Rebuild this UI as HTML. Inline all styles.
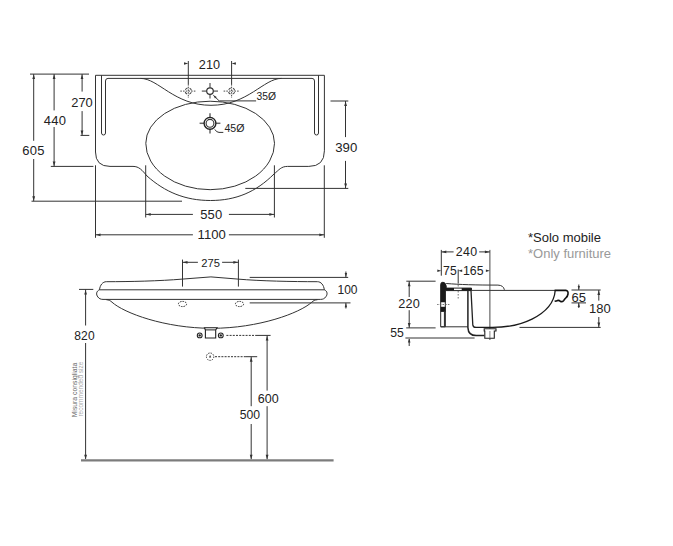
<!DOCTYPE html>
<html><head><meta charset="utf-8"><style>
html,body{margin:0;padding:0;background:#fff;}
body{width:673px;height:546px;overflow:hidden;}
svg{display:block;font-family:"Liberation Sans",sans-serif;}
</style></head><body>
<svg width="673" height="546" viewBox="0 0 673 546">
<rect width="673" height="546" fill="#fff"/>
<path d="M95.5,75.3 H324.4 V150.8 Q324.4,166.4 308.8,166.4 H287.5 C281,166.4 279,170 274,174 C256,192 236,200.5 210.5,200.5 C185,200.5 165,192 147,176 C142,170 139,166.4 133,166.4 H110 Q95.5,166.4 95.5,152 Z" stroke="#333" stroke-width="1" fill="none" />
<path d="M101.5,75.3 V133 A2,2 0 0 0 105.5,133 V81 Q105.5,78.4 108,78.4 H312 Q314.5,78.4 314.5,81 V133 A2,2 0 0 0 318.5,133 V75.3" stroke="#333" stroke-width="1" fill="none" />
<path d="M140.5,78.4 C158.5,78.4 174,105.3 211,105.3 C248,105.3 263.5,78.4 281.5,78.4" stroke="#333" stroke-width="1" fill="none" />
<path d="M145.8,143.3 A64.35,42.1 0 0 1 274.5,143.3 A64.35,46.4 0 0 1 145.8,143.3 Z" stroke="#333" stroke-width="1" fill="none" />
<line x1="201.8" y1="91.1" x2="218" y2="91.1" stroke="#777" stroke-width="1.5" />
<line x1="210" y1="82.9" x2="210" y2="98.6" stroke="#777" stroke-width="1.5" />
<circle cx="210" cy="91.1" r="3.3" fill="#fff" stroke="#333" stroke-width="1.2"/>
<g stroke="#4a4a4a" stroke-width="1" fill="none" stroke-dasharray="1.6,1.1"><circle cx="188.3" cy="91.1" r="3.2" stroke-dasharray="2.8,2.2" transform="rotate(20 188.3 91.1)"/><line x1="180.3" y1="91.1" x2="196.3" y2="91.1"/><line x1="188.3" y1="84" x2="188.3" y2="98"/></g>
<g stroke="#4a4a4a" stroke-width="1" fill="none" stroke-dasharray="1.6,1.1"><circle cx="231.6" cy="91.1" r="3.2" stroke-dasharray="2.8,2.2" transform="rotate(20 231.6 91.1)"/><line x1="223.6" y1="91.1" x2="239.6" y2="91.1"/><line x1="231.6" y1="84" x2="231.6" y2="98"/></g>
<line x1="199.6" y1="123.3" x2="220.4" y2="123.3" stroke="#666" stroke-width="1.5" />
<line x1="210" y1="113.3" x2="210" y2="133.6" stroke="#666" stroke-width="1.5" />
<circle cx="210" cy="123.3" r="5.9" fill="#fff" stroke="#222" stroke-width="1.4"/>
<circle cx="210" cy="123.3" r="3.9" fill="#fff" stroke="#333" stroke-width="1.1"/>
<path d="M213.4,95.3 L219.2,100.9 H256.1" stroke="#333" stroke-width="1" fill="none" />
<polygon points="213.40,95.30 215.03,98.62 216.72,96.93" fill="#333"/>
<path d="M214.8,129.4 Q216.5,132.4 219,132.4 H223.3" stroke="#333" stroke-width="1" fill="none" />
<text x="256.5" y="99.5" font-size="10.3" text-anchor="start" fill="#222" >35Ø</text>
<text x="224.4" y="131.6" font-size="10.6" text-anchor="start" fill="#222" >45Ø</text>
<line x1="188.3" y1="61" x2="188.3" y2="84" stroke="#333" stroke-width="1" />
<line x1="231.6" y1="61" x2="231.6" y2="84" stroke="#333" stroke-width="1" />
<polygon points="188.30,63.50 184.00,62.30 184.00,64.70" fill="#333"/>
<polygon points="231.60,63.50 235.90,62.30 235.90,64.70" fill="#333"/>
<text x="209.45" y="68.9" font-size="12.7" text-anchor="middle" fill="#222" >210</text>
<line x1="30" y1="74.1" x2="89" y2="74.1" stroke="#333" stroke-width="1" />
<line x1="33.7" y1="74.1" x2="33.7" y2="140.8" stroke="#333" stroke-width="1" />
<line x1="33.7" y1="159" x2="33.7" y2="201.2" stroke="#333" stroke-width="1" />
<polygon points="33.70,74.60 32.30,79.10 35.10,79.10" fill="#333"/>
<polygon points="33.70,200.70 32.30,196.20 35.10,196.20" fill="#333"/>
<text x="33.6" y="154.8" font-size="13" text-anchor="middle" fill="#222" letter-spacing="0.3">605</text>
<line x1="54.1" y1="74.1" x2="54.1" y2="110.4" stroke="#333" stroke-width="1" />
<line x1="54.1" y1="127" x2="54.1" y2="166.4" stroke="#333" stroke-width="1" />
<polygon points="54.10,74.60 52.70,79.10 55.50,79.10" fill="#333"/>
<polygon points="54.10,165.90 52.70,161.40 55.50,161.40" fill="#333"/>
<text x="55.1" y="124.9" font-size="13" text-anchor="middle" fill="#222" letter-spacing="0.3">440</text>
<line x1="82.1" y1="74.1" x2="82.1" y2="91.6" stroke="#333" stroke-width="1" />
<line x1="82.1" y1="111.1" x2="82.1" y2="135.4" stroke="#333" stroke-width="1" />
<polygon points="82.00,74.60 80.60,79.10 83.40,79.10" fill="#333"/>
<polygon points="82.00,134.90 80.60,130.40 83.40,130.40" fill="#333"/>
<text x="82" y="106.7" font-size="12.9" text-anchor="middle" fill="#222" >270</text>
<line x1="80.5" y1="135.4" x2="89.3" y2="135.4" stroke="#333" stroke-width="1" />
<line x1="50.8" y1="166.4" x2="93.4" y2="166.4" stroke="#333" stroke-width="1" />
<line x1="31.5" y1="201.2" x2="182" y2="201.2" stroke="#333" stroke-width="1" />
<line x1="145.7" y1="165.3" x2="145.7" y2="217.5" stroke="#333" stroke-width="1" />
<line x1="274.4" y1="165.3" x2="274.4" y2="217.5" stroke="#333" stroke-width="1" />
<line x1="145.7" y1="214.4" x2="192.9" y2="214.4" stroke="#333" stroke-width="1" />
<line x1="228.9" y1="214.4" x2="274.4" y2="214.4" stroke="#333" stroke-width="1" />
<polygon points="146.20,214.40 150.70,213.00 150.70,215.80" fill="#333"/>
<polygon points="273.90,214.40 269.40,213.00 269.40,215.80" fill="#333"/>
<text x="211.3" y="218.9" font-size="13" text-anchor="middle" fill="#222" letter-spacing="0.2">550</text>
<line x1="95.5" y1="165.3" x2="95.5" y2="237.8" stroke="#333" stroke-width="1" />
<line x1="324.3" y1="165.3" x2="324.3" y2="237.8" stroke="#333" stroke-width="1" />
<line x1="95.5" y1="234.8" x2="192.9" y2="234.8" stroke="#333" stroke-width="1" />
<line x1="228.9" y1="234.8" x2="324.3" y2="234.8" stroke="#333" stroke-width="1" />
<polygon points="96.00,234.80 100.50,233.40 100.50,236.20" fill="#333"/>
<polygon points="323.80,234.80 319.30,233.40 319.30,236.20" fill="#333"/>
<text x="211.7" y="239.1" font-size="13.1" text-anchor="middle" fill="#222" >1100</text>
<line x1="330.5" y1="101" x2="348.3" y2="101" stroke="#333" stroke-width="1" />
<line x1="245.3" y1="188.4" x2="348.3" y2="188.4" stroke="#333" stroke-width="1" />
<line x1="345.5" y1="101" x2="345.5" y2="137.1" stroke="#333" stroke-width="1" />
<line x1="345.5" y1="160.9" x2="345.5" y2="188.4" stroke="#333" stroke-width="1" />
<polygon points="345.60,101.50 344.20,106.00 347.00,106.00" fill="#333"/>
<polygon points="345.60,187.90 344.20,183.40 347.00,183.40" fill="#333"/>
<text x="346.3" y="152" font-size="13.2" text-anchor="middle" fill="#222" >390</text>
<path d="M106.3,281.7 C130,281.7 160,281 182.3,279.1 L210.9,276.9 L238,279.1 C260,281 292,281.7 317.5,281.7 C321,281.7 323.8,285 324.3,289.8 C327.5,291 327.8,294.5 325.8,296.8 C324.6,298.6 323,299.4 320.5,299.4 H103 C100.5,299.4 99,298.5 97.9,297 C95.8,294.5 96.3,291 99.5,289.8 C100,285 102.8,281.7 106.3,281.7 Z" stroke="#333" stroke-width="1" fill="none" />
<line x1="99.5" y1="289.8" x2="324.3" y2="289.8" stroke="#333" stroke-width="1" />
<path d="M106.3,299.7 C109,299.9 110.5,300.8 112,302.2 C124,313 165,328.3 211.9,328.3 C258.8,328.3 299.8,313 311.8,302.2 C313.3,300.8 314.8,299.9 317.5,299.7" stroke="#333" stroke-width="1" fill="none" />
<ellipse cx="182.5" cy="304" rx="4.1" ry="2.6" fill="none" stroke="#333" stroke-width="1" stroke-dasharray="1.6,1"/>
<ellipse cx="239.5" cy="304" rx="4.1" ry="2.6" fill="none" stroke="#333" stroke-width="1" stroke-dasharray="1.6,1"/>
<path d="M204.4,327.7 H217.1 L215.7,329.9 V338 H205.4 V329.9 Z" stroke="#222" stroke-width="1.1" fill="#fff" />
<line x1="205.4" y1="329.9" x2="215.7" y2="329.9" stroke="#222" stroke-width="1" />
<circle cx="199.7" cy="335.4" r="2.4" fill="#fff" stroke="#222" stroke-width="1.1"/><circle cx="199.7" cy="335.4" r="1.2" fill="#222"/>
<circle cx="220.8" cy="335.4" r="2.4" fill="#fff" stroke="#222" stroke-width="1.1"/><circle cx="220.8" cy="335.4" r="1.2" fill="#222"/>
<line x1="226.4" y1="335.4" x2="255.2" y2="335.4" stroke="#333" stroke-width="1" stroke-dasharray="2,1.2"/>
<line x1="255.2" y1="335.4" x2="270.6" y2="335.4" stroke="#333" stroke-width="1" />
<circle cx="210.1" cy="356.7" r="3.7" fill="none" stroke="#333" stroke-width="1" stroke-dasharray="1.4,1.1"/>
<polygon points="210.10,355.00 209.00,357.50 211.20,357.50" fill="#333"/>
<line x1="215" y1="356.7" x2="245.1" y2="356.7" stroke="#333" stroke-width="1" stroke-dasharray="2,1.2"/>
<line x1="245.1" y1="356.7" x2="257.2" y2="356.7" stroke="#333" stroke-width="1" />
<line x1="267.1" y1="335.4" x2="267.1" y2="390.6" stroke="#333" stroke-width="1" />
<line x1="267.1" y1="406.2" x2="267.1" y2="459.3" stroke="#333" stroke-width="1" />
<polygon points="267.10,336.00 265.70,340.50 268.50,340.50" fill="#333"/>
<polygon points="267.10,459.20 265.70,454.70 268.50,454.70" fill="#333"/>
<text x="268.3" y="402.8" font-size="12.5" text-anchor="middle" fill="#222" >600</text>
<line x1="251.2" y1="356.7" x2="251.2" y2="406.2" stroke="#333" stroke-width="1" />
<line x1="251.2" y1="424" x2="251.2" y2="459.3" stroke="#333" stroke-width="1" />
<polygon points="251.20,357.20 249.80,361.70 252.60,361.70" fill="#333"/>
<polygon points="251.20,459.20 249.80,454.70 252.60,454.70" fill="#333"/>
<text x="249.9" y="418.8" font-size="12.2" text-anchor="middle" fill="#222" >500</text>
<line x1="182.5" y1="259.6" x2="182.5" y2="286.6" stroke="#333" stroke-width="1" />
<line x1="238.4" y1="259.6" x2="238.4" y2="286.6" stroke="#333" stroke-width="1" />
<line x1="182.5" y1="262.3" x2="197.9" y2="262.3" stroke="#333" stroke-width="1" />
<line x1="222.1" y1="262.3" x2="238.4" y2="262.3" stroke="#333" stroke-width="1" />
<polygon points="183.00,262.30 187.50,260.90 187.50,263.70" fill="#333"/>
<polygon points="237.90,262.30 233.40,260.90 233.40,263.70" fill="#333"/>
<text x="210.6" y="266.7" font-size="11.2" text-anchor="middle" fill="#222" >275</text>
<line x1="249.7" y1="277.4" x2="348.2" y2="277.4" stroke="#333" stroke-width="1" />
<line x1="249.7" y1="302.9" x2="350.5" y2="302.9" stroke="#333" stroke-width="1" />
<line x1="345.9" y1="271.5" x2="345.9" y2="277.4" stroke="#333" stroke-width="1" />
<polygon points="345.90,277.00 344.70,273.00 347.10,273.00" fill="#333"/>
<line x1="345.9" y1="302.9" x2="345.9" y2="308.5" stroke="#333" stroke-width="1" />
<polygon points="345.90,303.30 344.70,307.30 347.10,307.30" fill="#333"/>
<text x="347.5" y="294.2" font-size="12" text-anchor="middle" fill="#222" >100</text>
<line x1="79" y1="289.4" x2="93.3" y2="289.4" stroke="#333" stroke-width="1" />
<line x1="85.6" y1="289.4" x2="85.6" y2="325.5" stroke="#333" stroke-width="1" />
<line x1="85.6" y1="343" x2="85.6" y2="459" stroke="#333" stroke-width="1" />
<polygon points="85.60,289.90 84.20,294.40 87.00,294.40" fill="#333"/>
<polygon points="85.60,459.20 84.20,454.70 87.00,454.70" fill="#333"/>
<text x="84.6" y="339.8" font-size="12" text-anchor="middle" fill="#222" letter-spacing="0.3">820</text>
<line x1="81" y1="460.4" x2="333.6" y2="460.4" stroke="#7c7c7c" stroke-width="2.3" />
<text transform="translate(76.7,417.3) rotate(-90)" font-size="7" textLength="54.5" lengthAdjust="spacingAndGlyphs" fill="#666">Misura consigliata</text>
<text transform="translate(83.2,416.6) rotate(-90)" font-size="6.9" textLength="55" lengthAdjust="spacingAndGlyphs" fill="#aaa">recommended size</text>
<text x="528" y="241.8" font-size="13" text-anchor="start" fill="#222" >*Solo mobile</text>
<text x="528" y="257.8" font-size="13" text-anchor="start" fill="#999" >*Only furniture</text>
<line x1="441.3" y1="249.9" x2="441.3" y2="275.7" stroke="#333" stroke-width="1" />
<line x1="489.9" y1="249.9" x2="489.9" y2="340" stroke="#333" stroke-width="0.9" />
<line x1="441.3" y1="251.9" x2="453.6" y2="251.9" stroke="#333" stroke-width="1" />
<line x1="479.2" y1="251.9" x2="489.9" y2="251.9" stroke="#333" stroke-width="1" />
<polygon points="441.80,251.90 446.30,250.50 446.30,253.30" fill="#333"/>
<polygon points="489.40,251.90 484.90,250.50 484.90,253.30" fill="#333"/>
<text x="466.6" y="255.7" font-size="12.4" text-anchor="middle" fill="#222" letter-spacing="0.3">240</text>
<polygon points="441.30,270.80 437.30,269.60 437.30,272.00" fill="#333"/>
<polygon points="458.20,270.80 462.20,269.60 462.20,272.00" fill="#333"/>
<polygon points="489.90,270.80 485.90,269.60 485.90,272.00" fill="#333"/>
<line x1="458.2" y1="269.5" x2="458.2" y2="283.5" stroke="#333" stroke-width="1" />
<line x1="458.2" y1="285" x2="458.2" y2="300" stroke="#666" stroke-width="0.9" stroke-dasharray="1.5,1.5"/>
<text x="449.9" y="274.6" font-size="12.2" text-anchor="middle" fill="#222" >75</text>
<text x="473.3" y="274.6" font-size="12.3" text-anchor="middle" fill="#222" >165</text>
<line x1="406.3" y1="281.2" x2="435.6" y2="281.2" stroke="#333" stroke-width="1" />
<line x1="409.2" y1="281.2" x2="409.2" y2="297" stroke="#333" stroke-width="1" />
<line x1="409.2" y1="310.2" x2="409.2" y2="327.9" stroke="#333" stroke-width="1" />
<polygon points="409.20,281.70 407.80,286.20 410.60,286.20" fill="#333"/>
<polygon points="409.20,327.40 407.80,322.90 410.60,322.90" fill="#333"/>
<text x="409.2" y="308.1" font-size="12.7" text-anchor="middle" fill="#222" letter-spacing="0.2">220</text>
<line x1="406.2" y1="327.9" x2="435.6" y2="327.9" stroke="#333" stroke-width="1" />
<line x1="405.4" y1="338" x2="474.6" y2="338" stroke="#333" stroke-width="1" />
<line x1="409.2" y1="339" x2="409.2" y2="346" stroke="#333" stroke-width="1" />
<polygon points="409.20,338.50 407.90,342.50 410.50,342.50" fill="#333"/>
<text x="397" y="336.9" font-size="12.2" text-anchor="middle" fill="#222" >55</text>
<path d="M440.7,326.8 V284.4 Q440.7,282.2 443,282.2 Q445.6,282.4 446.2,286 V288.1 H471.5 V290.6 H445.3 V326.8 Z" stroke="#222" stroke-width="1" fill="#fff" />
<path d="M440.7,302.2 V284.4 Q440.7,282.2 443,282.2 Q445.6,282.4 446.2,286 V288.1 H454 V290.6 H445.6 V302.2 Z" fill="#1a1a1a"/>
<rect x="461.7" y="288.1" width="9.8" height="2.5" fill="#1a1a1a"/>
<rect x="440.7" y="306.8" width="4.9" height="5.1" fill="#1a1a1a"/>
<line x1="444.6" y1="311.9" x2="444.6" y2="326.8" stroke="#333" stroke-width="1.4" />
<line x1="437.1" y1="304.5" x2="450" y2="304.5" stroke="#555" stroke-width="0.8" stroke-dasharray="1.5,1.2"/>
<line x1="440.7" y1="326.8" x2="467.9" y2="326.8" stroke="#333" stroke-width="1" />
<path d="M446.2,283.5 C460,284.6 475,285.1 497.9,285.1 Q503.5,285.3 504.4,289.8" stroke="#333" stroke-width="1" fill="none" />
<line x1="471.5" y1="290.4" x2="555" y2="290.4" stroke="#333" stroke-width="1" />
<path d="M554.6,290.4 H565.8 Q568.4,290.6 568,294 Q567.6,296.4 566.2,297.5 Q564.6,299 563.8,300.4 Q562.5,301.9 560.8,301.6 Q559,300.2 557.8,300.4 Q556.5,300.8 554.6,301.3" stroke="#111" stroke-width="1.6" fill="none" />
<path d="M555.2,290.5 C554.5,300 548.2,311 532,319.1 C520,325 505,327.4 492.5,327.4 H474.5" stroke="#1a1a1a" stroke-width="1.3" fill="none" />
<path d="M467.9,290.6 V327.6 Q468.3,335.6 476.2,335.6 H484.4" stroke="#222" stroke-width="1.5" fill="none" />
<path d="M471,290.6 L472.8,325 Q473.4,327.4 475.5,327.4" stroke="#222" stroke-width="1.3" fill="none" />
<path d="M484.2,328.8 H496 V331 H494.3 V338.3 H484.8 V331 H484.2 Z" stroke="#222" stroke-width="1.1" fill="#fff" />
<line x1="489.9" y1="331" x2="489.9" y2="338.3" stroke="#666" stroke-width="0.8" />
<line x1="571.5" y1="290" x2="600.7" y2="290" stroke="#333" stroke-width="1" />
<line x1="571.5" y1="302.9" x2="586" y2="302.9" stroke="#333" stroke-width="1" />
<line x1="578.8" y1="284.5" x2="578.8" y2="290" stroke="#333" stroke-width="1" />
<polygon points="578.80,289.80 577.70,286.00 579.90,286.00" fill="#333"/>
<line x1="578.8" y1="302.9" x2="578.8" y2="308" stroke="#333" stroke-width="1" />
<polygon points="578.80,303.10 577.70,306.90 579.90,306.90" fill="#333"/>
<text x="578.8" y="301.7" font-size="13" text-anchor="middle" fill="#222" >65</text>
<line x1="519.5" y1="327.4" x2="600.7" y2="327.4" stroke="#333" stroke-width="1" />
<line x1="598.8" y1="290" x2="598.8" y2="300.6" stroke="#333" stroke-width="1" />
<line x1="598.8" y1="317" x2="598.8" y2="327.4" stroke="#333" stroke-width="1" />
<polygon points="598.80,290.50 597.40,295.00 600.20,295.00" fill="#333"/>
<polygon points="598.80,326.90 597.40,322.40 600.20,322.40" fill="#333"/>
<text x="599.8" y="312.9" font-size="13" text-anchor="middle" fill="#222" >180</text>
</svg>
</body></html>
